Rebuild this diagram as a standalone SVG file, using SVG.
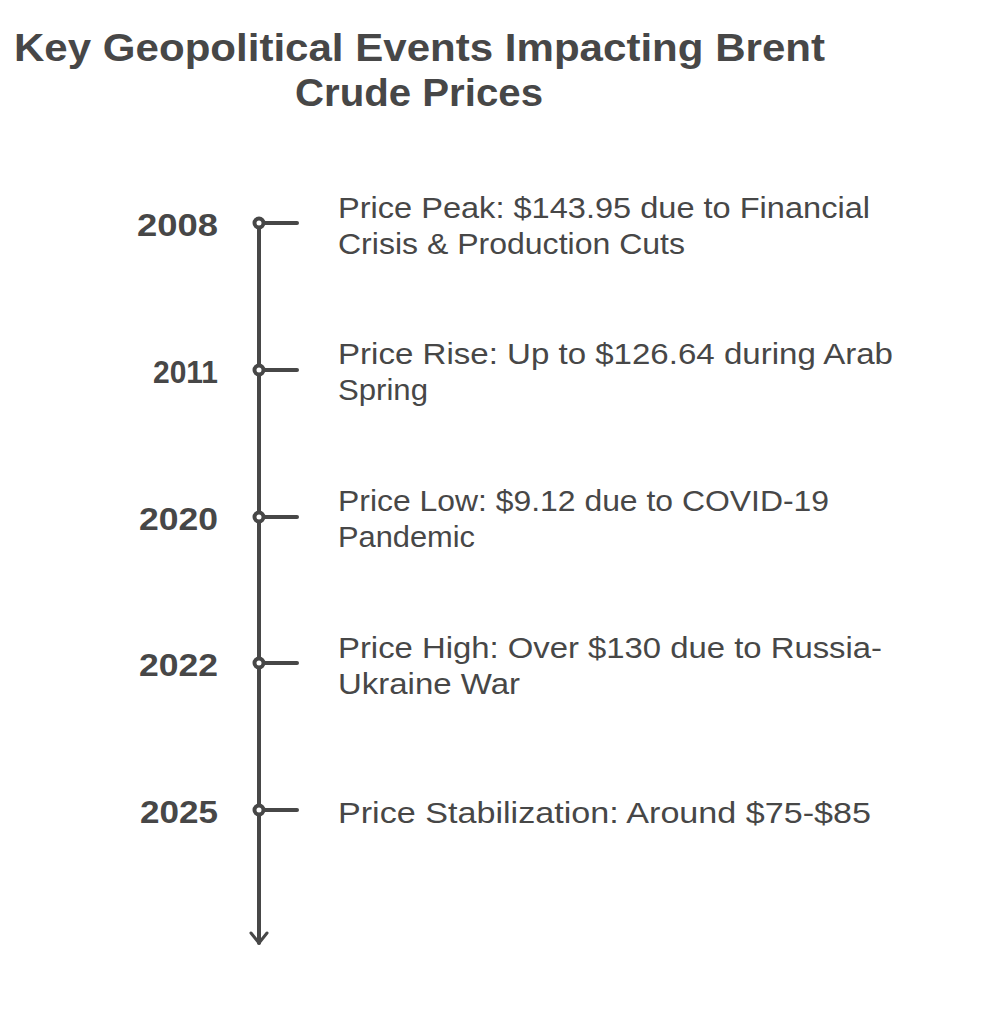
<svg xmlns="http://www.w3.org/2000/svg" width="998" height="1024" viewBox="0 0 998 1024">
<style>
.title{font-family:"Liberation Sans",Arial,sans-serif;font-weight:bold;font-size:38px;fill:#474747}
.year{font-family:"Liberation Sans",Arial,sans-serif;font-weight:bold;font-size:31px;fill:#474747}
.desc{font-family:"Liberation Sans",Arial,sans-serif;font-size:29px;fill:#474747}
.tick{stroke:#474747;stroke-width:4;stroke-linecap:round;fill:none}
.dot{fill:#fff;stroke:#474747;stroke-width:4}
</style>
<defs>
<marker id="arr" viewBox="0 0 20 20" refX="15" refY="10" markerWidth="20" markerHeight="20" markerUnits="userSpaceOnUse" orient="auto">
<path d="M5 2 L15 10 L5 18" fill="none" stroke="#474747" stroke-width="3" stroke-linecap="round" stroke-linejoin="round"/>
</marker>
</defs>
<g id="title">
<text class="title" x="14" y="61" textLength="811" lengthAdjust="spacingAndGlyphs">Key Geopolitical Events Impacting Brent</text>
<text class="title" x="295" y="106" textLength="248" lengthAdjust="spacingAndGlyphs">Crude Prices</text>
</g>
<g id="connectors">
<line class="tick" x1="259" y1="223" x2="259" y2="943" marker-end="url(#arr)"/>
</g>
<g id="e2008">
<line class="tick" x1="259" y1="223" x2="297" y2="223"/>
<circle class="dot" cx="259" cy="223" r="4.5"/>
<text class="year" x="137" y="236" textLength="81" lengthAdjust="spacingAndGlyphs">2008</text>
<text class="desc" x="338" y="218" textLength="532" lengthAdjust="spacingAndGlyphs">Price Peak: $143.95 due to Financial</text>
<text class="desc" x="338" y="254" textLength="347" lengthAdjust="spacingAndGlyphs">Crisis &amp; Production Cuts</text>
</g>
<g id="e2011">
<line class="tick" x1="259" y1="370" x2="297" y2="370"/>
<circle class="dot" cx="259" cy="370" r="4.5"/>
<text class="year" x="153" y="383" textLength="65" lengthAdjust="spacingAndGlyphs">2011</text>
<text class="desc" x="338" y="364" textLength="555" lengthAdjust="spacingAndGlyphs">Price Rise: Up to $126.64 during Arab</text>
<text class="desc" x="338" y="400" textLength="90" lengthAdjust="spacingAndGlyphs">Spring</text>
</g>
<g id="e2020">
<line class="tick" x1="259" y1="517" x2="297" y2="517"/>
<circle class="dot" cx="259" cy="517" r="4.5"/>
<text class="year" x="139" y="530" textLength="79" lengthAdjust="spacingAndGlyphs">2020</text>
<text class="desc" x="338" y="511" textLength="491" lengthAdjust="spacingAndGlyphs">Price Low: $9.12 due to COVID-19</text>
<text class="desc" x="338" y="547" textLength="137" lengthAdjust="spacingAndGlyphs">Pandemic</text>
</g>
<g id="e2022">
<line class="tick" x1="259" y1="663" x2="297" y2="663"/>
<circle class="dot" cx="259" cy="663" r="4.5"/>
<text class="year" x="139" y="676" textLength="79" lengthAdjust="spacingAndGlyphs">2022</text>
<text class="desc" x="338" y="658" textLength="544" lengthAdjust="spacingAndGlyphs">Price High: Over $130 due to Russia-</text>
<text class="desc" x="338" y="694" textLength="182" lengthAdjust="spacingAndGlyphs">Ukraine War</text>
</g>
<g id="e2025">
<line class="tick" x1="259" y1="810" x2="297" y2="810"/>
<circle class="dot" cx="259" cy="810" r="4.5"/>
<text class="year" x="140" y="823" textLength="78" lengthAdjust="spacingAndGlyphs">2025</text>
<text class="desc" x="338" y="823" textLength="533" lengthAdjust="spacingAndGlyphs">Price Stabilization: Around $75-$85</text>
</g>
</svg>
